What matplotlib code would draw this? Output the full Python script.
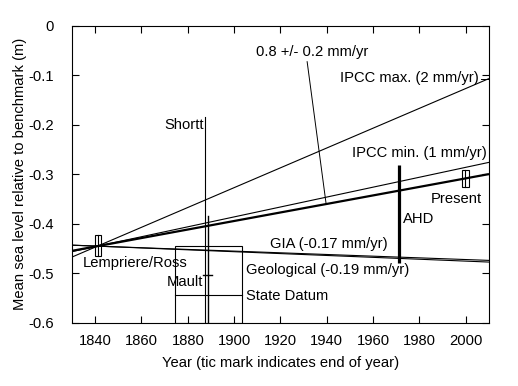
import matplotlib
matplotlib.use("Agg")
import matplotlib.pyplot as plt
from matplotlib.patches import Rectangle

plt.rcParams['font.family'] = ['Liberation Sans', 'DejaVu Sans']
plt.rcParams['font.size'] = 10.6

# ---- data ----
x_range = [1830, 2010]
pivot_year = 1841.0
pivot_level = -0.445
trend_names = ['IPCC max. (2 mm/yr)', 'IPCC min. (1 mm/yr)', '0.8 +/- 0.2 mm/yr',
               'GIA (-0.17 mm/yr)', 'Geological (-0.19 mm/yr)']
trend_rates = [2.0, 1.0, 0.86, -0.17, -0.19]   # mm/yr
trend_widths = [0.8, 0.8, 1.6, 0.8, 0.8]

# box observations (year range, level range)
lemp_years = [1840.0, 1842.4]
lemp_levels = [-0.465, -0.4225]
present_years = [1998.2, 2001.5]
present_levels = [-0.325, -0.291]

# vertical error-bar observations
shortt_year = 1887.3
shortt_levels = [-0.6, -0.185]
mault_year = 1888.5
mault_levels = [-0.6, -0.385]
mault_value = -0.503
ahd_year = 1971.1
ahd_levels = [-0.479, -0.282]

# State Datum box
sd_years = [1874.3, 1903.5]
sd_levels = [-0.6, -0.445]
sd_value = -0.543

def level(rate, year):
    return pivot_level + rate / 1000.0 * (year - pivot_year)

fig = plt.figure(figsize=(5.18, 3.86), dpi=100)
ax = fig.add_axes([72/518, 1 - 323/386, (489-72)/518, (323-25.5)/386])

for name, r, w in zip(trend_names, trend_rates, trend_widths):
    ax.plot(x_range, [level(r, x_range[0]), level(r, x_range[1])], color='black', lw=w,
            solid_capstyle='butt')

# boxes
for yrs, lv in [(lemp_years, lemp_levels), (present_years, present_levels)]:
    ax.add_patch(Rectangle((yrs[0], lv[0]), yrs[1]-yrs[0], lv[1]-lv[0],
                           fill=False, ec='black', lw=0.8))
    xm = (yrs[0] + yrs[1]) / 2
    ax.plot([xm, xm], lv, color='black', lw=0.8)

ax.add_patch(Rectangle((sd_years[0], sd_levels[0]), sd_years[1]-sd_years[0],
                       sd_levels[1]-sd_levels[0], fill=False, ec='black', lw=0.8))
ax.plot(sd_years, [sd_value, sd_value], color='black', lw=0.8)

ax.plot([shortt_year, shortt_year], shortt_levels, color='black', lw=0.8)
ax.plot([mault_year, mault_year], mault_levels, color='black', lw=1.0)
ax.plot([mault_year-2.0, mault_year+1.8], [mault_value, mault_value], color='black', lw=1.0)
ax.plot([ahd_year, ahd_year], ahd_levels, color='black', lw=2.3, solid_capstyle='butt')

# pointer for 0.8 label
ax.plot([1931.5, 1939.7], [-0.073, level(0.86, 1939.7)], color='black', lw=0.7)
# leader for IPCC max
ax.plot([2006.6, 2010], [-0.107, -0.107], color='black', lw=0.7)

ax.text(1909.6, -0.053, '0.8 +/- 0.2 mm/yr', va='center', ha='left')
ax.text(2005.6, -0.106, 'IPCC max. (2 mm/yr)', va='center', ha='right')
ax.text(2009.0, -0.257, 'IPCC min. (1 mm/yr)', va='center', ha='right')
ax.text(1886.8, -0.200, 'Shortt', va='center', ha='right')
ax.text(2007.0, -0.350, 'Present', va='center', ha='right')
ax.text(1972.8, -0.390, 'AHD', va='center', ha='left')
ax.text(1915.4, -0.4405, 'GIA (-0.17 mm/yr)', va='center', ha='left')
ax.text(1834.6, -0.479, 'Lempriere/Ross', va='center', ha='left')
ax.text(1904.9, -0.493, 'Geological (-0.19 mm/yr)', va='center', ha='left')
ax.text(1886.8, -0.517, 'Mault', va='center', ha='right')
ax.text(1904.9, -0.545, 'State Datum', va='center', ha='left')

ax.set_xlim(x_range)
ax.set_ylim(-0.6, 0)
ax.set_xticks(range(1840, 2001, 20))
ax.set_yticks([0, -0.1, -0.2, -0.3, -0.4, -0.5, -0.6])
ax.set_yticklabels(['0', '-0.1', '-0.2', '-0.3', '-0.4', '-0.5', '-0.6'])
ax.tick_params(axis='x', direction='in', length=5, width=0.8, top=True, pad=8)
ax.tick_params(axis='y', direction='in', length=5, width=0.8, right=True, pad=13)
for s in ax.spines.values():
    s.set_linewidth(0.8)
ax.set_xlabel('Year (tic mark indicates end of year)', labelpad=6)
ax.set_ylabel('Mean sea level relative to benchmark (m)', labelpad=1)

fig.savefig('out.png', dpi=100)
